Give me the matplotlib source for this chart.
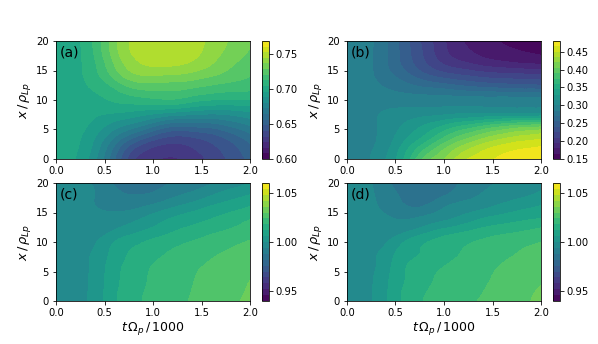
import numpy as np
import matplotlib
matplotlib.use("Agg")
import matplotlib.pyplot as plt
import matplotlib.tri as mtri

W, H = 598, 344
t_vals = [0.0, 0.2, 0.4, 0.6, 0.8, 1.0, 1.2, 1.4, 1.6, 1.8, 2.0]
x_vals = [0, 2, 4, 6, 8, 10, 12, 14, 16, 18, 20]

panel_a = [
    [.700,.696,.682,.657,.633,.6255,.623,.6275,.634,.642,.650],
    [.700,.697,.685,.663,.642,.632,.629,.632,.638,.645,.654],
    [.700,.698,.689,.674,.660,.648,.641,.642,.646,.653,.662],
    [.700,.699,.694,.686,.679,.670,.662,.662,.663,.668,.674],
    [.700,.700,.698,.697,.695,.692,.689,.686,.684,.685,.688],
    [.701,.701,.702,.705,.708,.710,.711,.707,.704,.703,.703],
    [.701,.702,.705,.712,.720,.722,.722,.720,.717,.715,.714],
    [.701,.702,.709,.722,.733,.735,.734,.732,.728,.724,.720],
    [.701,.702,.711,.728,.741,.745,.745,.742,.736,.729,.724],
    [.701,.702,.713,.732,.745,.749,.750,.747,.740,.733,.727],
    [.701,.702,.714,.733,.746,.750,.751,.748,.742,.735,.729],
]
panel_b = [
    [.295,.298,.315,.348,.395,.420,.446,.459,.468,.473,.476],
    [.295,.297,.310,.338,.370,.400,.425,.443,.455,.462,.466],
    [.294,.296,.306,.325,.345,.370,.392,.410,.424,.434,.440],
    [.294,.297,.304,.316,.328,.340,.352,.363,.373,.380,.385],
    [.293,.296,.301,.304,.306,.308,.309,.310,.310,.310,.310],
    [.292,.293,.293,.293,.292,.292,.291,.291,.291,.291,.291],
    [.292,.290,.285,.278,.272,.268,.262,.258,.255,.252,.250],
    [.292,.289,.277,.262,.246,.235,.228,.222,.219,.217,.215],
    [.292,.289,.272,.250,.228,.210,.200,.192,.187,.183,.180],
    [.292,.289,.272,.247,.222,.199,.185,.176,.170,.166,.163],
    [.292,.289,.272,.245,.220,.197,.180,.171,.164,.159,.156],
]
panel_c = [
    [.9975,.998,1.0022,1.0106,1.0164,1.0197,1.0221,1.0244,1.0265,1.0286,1.0315],
    [.9975,.998,1.0021,1.0104,1.0159,1.0193,1.0217,1.024,1.026,1.0281,1.0305],
    [.9975,.998,1.0019,1.0099,1.0153,1.0189,1.0213,1.0236,1.0257,1.0278,1.0297],
    [.9975,.998,1.0016,1.0094,1.0145,1.0182,1.0205,1.0228,1.0247,1.0264,1.0278],
    [.9975,.998,1.0011,1.0081,1.0131,1.0162,1.0188,1.0209,1.0232,1.0248,1.026],
    [.9975,.9978,.9994,1.006,1.0103,1.0135,1.016,1.0183,1.0204,1.0226,1.0244],
    [.9975,.9975,.9978,1.0,1.0038,1.0075,1.0112,1.0139,1.0165,1.0185,1.0215],
    [.9975,.997,.9968,.9965,.9985,1.0024,1.0064,1.0091,1.0118,1.0146,1.0175],
    [.9975,.9968,.9942,.992,.9925,.9955,.9992,1.0028,1.0064,1.0092,1.012],
    [.9975,.9965,.994,.9895,.988,.989,.9925,.9955,.9995,1.0032,1.006],
    [.9975,.9965,.993,.9875,.985,.9855,.9885,.991,.9933,.9965,1.0],
]
panel_d = [
    [.9965,.9985,1.0052,1.0135,1.0182,1.0205,1.0228,1.0245,1.0265,1.0285,1.032],
    [.9965,.9985,1.005,1.013,1.0175,1.02,1.0222,1.0238,1.0258,1.028,1.0305],
    [.9965,.9982,1.0045,1.012,1.0165,1.0195,1.0218,1.0232,1.0252,1.0272,1.029],
    [.9965,.998,1.0035,1.0115,1.015,1.0178,1.0203,1.0222,1.0243,1.0262,1.0278],
    [.9965,.998,1.0025,1.0095,1.0125,1.0155,1.0185,1.021,1.0228,1.0245,1.026],
    [.9965,.9972,.9995,1.0065,1.0115,1.0145,1.0168,1.019,1.021,1.0225,1.024],
    [.9965,.997,.997,.9985,1.003,1.0075,1.0105,1.0135,1.0155,1.0172,1.0195],
    [.9965,.9965,.995,.9935,.9955,.9985,1.002,1.006,1.0085,1.0105,1.012],
    [.9965,.9962,.992,.9885,.9885,.9935,.9965,.9985,1.0015,1.0042,1.0065],
    [.9965,.996,.9905,.987,.985,.9875,.9915,.9945,.997,.9988,1.0012],
    [.9965,.9955,.989,.9855,.9835,.985,.989,.9925,.9948,.9968,.9985],
]
panels = [panel_a, panel_b, panel_c, panel_d]
labels = ["(a)", "(b)", "(c)", "(d)"]
level_specs = [(0.60, 0.768, 0.008), (0.15, 0.48, 0.015), (0.94, 1.06, 0.006), (0.94, 1.06, 0.006)]
cbar_ticks = [[.60,.65,.70,.75], [.15,.20,.25,.30,.35,.40,.45], [.95,1.0,1.05], [.95,1.0,1.05]]
x_ticks = [0.0, 0.5, 1.0, 1.5, 2.0]
y_ticks = [0, 5, 10, 15, 20]

def axpx(fig, l, r, t, b):
    return fig.add_axes([l / W, 1 - b / H, (r - l) / W, (b - t) / H])

fig = plt.figure(figsize=(W / 72, H / 72), dpi=72)
boxes = [(56, 250, 41, 159), (347, 541, 41, 159), (56, 250, 183, 301), (347, 541, 183, 301)]
cboxes = [(262, 268.5), (553, 559.5), (262, 268.5), (553, 559.5)]
T, X = np.meshgrid(t_vals, x_vals)
tri = mtri.Triangulation(T.ravel(), X.ravel())
refiner = mtri.UniformTriRefiner(tri)
for i in range(4):
    l, r, tp, b = boxes[i]
    ax = axpx(fig, l, r, tp, b)
    lo, hi, st = level_specs[i]
    n = int(round((hi - lo) / st))
    levels = lo + st * np.arange(n + 1)
    z = np.array(panels[i]).ravel()
    # smooth contour drawing through the library's own cubic triangulation
    interp = mtri.CubicTriInterpolator(tri, z, kind="min_E")
    fine_tri, fine_z = refiner.refine_field(z, interp, subdiv=3)
    fine_z = np.clip(fine_z, lo + 1e-6, hi - 1e-6)
    cs = ax.tricontourf(fine_tri, fine_z, levels=levels, cmap="viridis")
    ax.set_xlim(0, 2)
    ax.set_ylim(0, 20)
    ax.set_xticks(x_ticks)
    ax.set_yticks(y_ticks)
    ax.set_ylabel(r"$x\,/\,\rho_{Lp}$", fontsize=13, labelpad=3)
    if i >= 2:
        ax.set_xlabel(r"$t\,\Omega_p\,/\,1000$", fontsize=12.5, labelpad=2)
    ax.text(0.02, 0.905, labels[i], transform=ax.transAxes, fontsize=14, va="center", ha="left")
    cax = axpx(fig, cboxes[i][0], cboxes[i][1], tp, b)
    cb = fig.colorbar(cs, cax=cax)
    cb.set_ticks(cbar_ticks[i])
    cb.ax.set_yticklabels(["%.2f" % v for v in cbar_ticks[i]])

fig.savefig("out.png", dpi=72)
